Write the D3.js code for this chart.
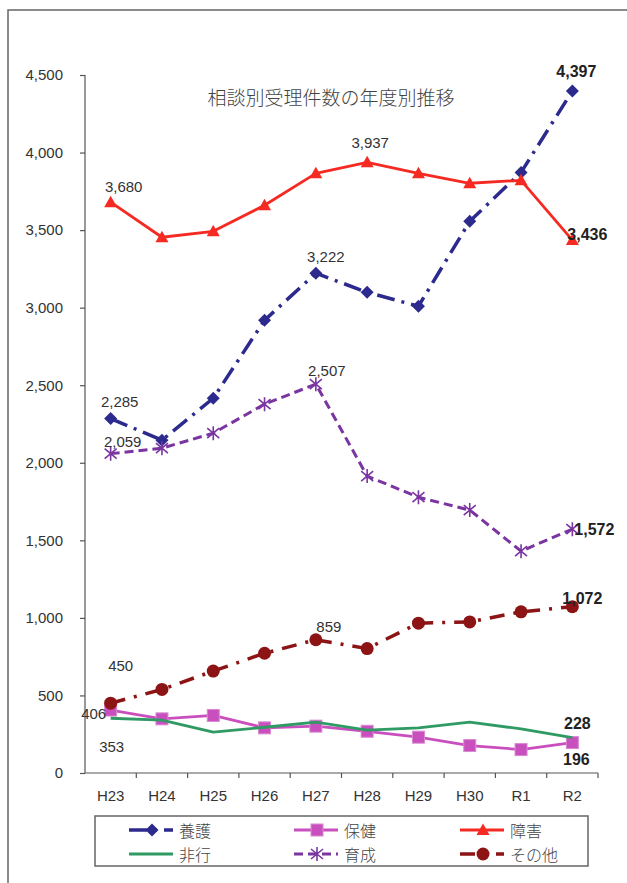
<!DOCTYPE html>
<html>
<head>
<meta charset="utf-8"/>
<script src="https://cdn.jsdelivr.net/npm/d3@7"></script>
<style>
html, body {
  margin: 0;
  padding: 0;
  background: #fff;
}
svg text {
  font-family: "Liberation Sans", Arial, sans-serif;
}
.axis path, .axis line {
  stroke: #555;
  stroke-width: 1.2;
}
.axis text {
  font-size: 15px;
  fill: #333;
}
.jp {
  font-family: "Noto Sans CJK JP", sans-serif !important;
  fill: #444;
}
</style>
</head>
<body>
<svg id="chart" width="627" height="883"></svg>
<script>

// ---- data ----
var years = ["H23", "H24", "H25", "H26", "H27", "H28", "H29", "H30", "R1", "R2"];
var yTicks = [0, 500, 1000, 1500, 2000, 2500, 3000, 3500, 4000, 4500];
var seriesNames = ["養護", "保健", "障害", "非行", "育成", "その他"];

var yogo   = [2285, 2146, 2416, 2919, 3222, 3099, 3009, 3557, 3872, 4397];
var hoken  = [406, 349, 371, 291, 302, 269, 231, 177, 151, 196];
var shogai = [3680, 3454, 3492, 3660, 3866, 3937, 3866, 3802, 3821, 3436];
var hiko   = [353, 341, 263, 295, 328, 276, 291, 328, 284, 228];
var ikusei = [2059, 2094, 2191, 2378, 2507, 1914, 1778, 1695, 1430, 1572];
var sonota = [450, 539, 657, 772, 859, 802, 966, 974, 1039, 1072];

var title = "相談別受理件数の年度別推移";

// ---- styling per series ----
var series = [
  {name: seriesNames[0], values: yogo,   color: "#2d2a8e", dash: "18,7,3,7", width: 3.5, marker: "diamond"},
  {name: seriesNames[1], values: hoken,  color: "#c94fbf", dash: null,       width: 2.8, marker: "square"},
  {name: seriesNames[2], values: shogai, color: "#f52a22", dash: null,       width: 2.8, marker: "triangle"},
  {name: seriesNames[3], values: hiko,   color: "#2f9a63", dash: null,       width: 2.8, marker: null},
  {name: seriesNames[4], values: ikusei, color: "#7a35a0", dash: "9,5",      width: 3,   marker: "star"},
  {name: seriesNames[5], values: sonota, color: "#8c1414", dash: "15,9,3,9", width: 3.5, marker: "circle"}
];

var svg = d3.select("#chart");

// outer frame (runs off the right and bottom edge)
svg.append("rect")
    .attr("x", 8).attr("y", 10)
    .attr("width", 660).attr("height", 920)
    .attr("fill", "none")
    .attr("stroke", "#666")
    .attr("stroke-width", 1.5);

var x = d3.scaleBand().domain(years).range([85, 598]);
var y = d3.scaleLinear().domain([0, 4500]).range([773, 75]);
function cx(d, i) { return x(years[i]) + x.bandwidth() / 2; }

// ---- axes ----
svg.append("g")
    .attr("class", "axis")
    .attr("transform", "translate(85,0)")
    .call(d3.axisLeft(y).tickValues(yTicks).tickFormat(d3.format(",")).tickSize(5).tickPadding(17))
    .call(function(g) { g.select(".domain").attr("d", "M0,75V773"); });

var xg = svg.append("g")
    .attr("class", "axis")
    .attr("transform", "translate(0,773)")
    .call(d3.axisBottom(x).tickSize(0).tickPadding(17));
xg.select(".domain").attr("d", "M85,0H598");
xg.selectAll(".bound")
    .data(years.slice(1).concat(["end"]))
  .enter().append("line")
    .attr("class", "bound")
    .attr("x1", function(d, i) { return x(years[0]) + x.step() * (i + 1); })
    .attr("x2", function(d, i) { return x(years[0]) + x.step() * (i + 1); })
    .attr("y1", 0).attr("y2", 5);

// ---- title ----
svg.append("text")
    .attr("class", "jp")
    .attr("x", 331).attr("y", 96)
    .attr("text-anchor", "middle")
    .attr("dominant-baseline", "central")
    .style("font-size", "19px")
    .style("font-weight", "300")
    .style("fill", "#444")
    .text(title);

// ---- markers ----
function drawMarker(g, type, color, px, py) {
  if (type === "diamond") {
    g.append("path").attr("d", "M" + px + "," + (py - 6.5) + "l6.5,6.5l-6.5,6.5l-6.5,-6.5z").attr("fill", color);
  } else if (type === "square") {
    g.append("rect").attr("x", px - 6).attr("y", py - 6).attr("width", 12).attr("height", 12)
        .attr("fill", color).attr("stroke", "#d98ad0").attr("stroke-width", 1);
  } else if (type === "triangle") {
    g.append("path").attr("d", "M" + px + "," + (py - 6.5) + "l6.5,11.5h-13z").attr("fill", color);
  } else if (type === "star") {
    g.append("path")
        .attr("d", "M" + px + "," + (py - 7) + "v14M" + (px - 6) + "," + (py - 5) + "l12,10M" + (px - 6) + "," + (py + 5) + "l12,-10")
        .attr("stroke", color).attr("stroke-width", 1.6).attr("fill", "none");
  } else if (type === "circle") {
    g.append("circle").attr("cx", px).attr("cy", py).attr("r", 6.5).attr("fill", color);
  }
}

var line = d3.line()
    .x(cx)
    .y(function(d) { return y(d); });

series.forEach(function(s) {
  var g = svg.append("g");
  g.append("path")
      .datum(s.values)
      .attr("d", line)
      .attr("fill", "none")
      .attr("stroke", s.color)
      .attr("stroke-width", s.width)
      .attr("stroke-dasharray", s.dash)
      .attr("stroke-linejoin", "round");
  if (s.marker) {
    s.values.forEach(function(v, i) {
      drawMarker(g, s.marker, s.color, cx(v, i), y(v));
    });
  }
});

// ---- data labels: series index, point index, offset ----
var labelSpots = [
  [0, 0, 9, -17, false], [0, 4, 10, -17, false], [0, 9, 4, -19, true],
  [2, 0, 13, -16, false], [2, 5, 3, -20, false], [2, 9, 15, -6, true],
  [4, 0, 12, -12, false], [4, 4, 11, -14, false], [4, 9, 22, 0, true],
  [5, 0, 10, -38, false], [5, 4, 13, -13, false], [5, 9, 10, -8, true],
  [1, 0, -17, 3, false], [1, 9, 4, 17, true],
  [3, 0, 1, 28, false], [3, 9, 5, -14, true]
];
var fmt = d3.format(",");
svg.append("g").selectAll("text")
    .data(labelSpots)
  .enter().append("text")
    .attr("x", function(d) { return cx(0, d[1]) + d[2]; })
    .attr("y", function(d) { return y(series[d[0]].values[d[1]]) + d[3]; })
    .attr("text-anchor", "middle")
    .attr("dominant-baseline", "central")
    .style("font-size", function(d) { return d[4] ? "16px" : "15px"; })
    .style("font-weight", function(d) { return d[4] ? "bold" : "normal"; })
    .style("fill", function(d) { return d[4] ? "#222" : "#333"; })
    .text(function(d) { return fmt(series[d[0]].values[d[1]]); });

// ---- legend ----
svg.append("rect")
    .attr("x", 95).attr("y", 816)
    .attr("width", 493).attr("height", 50)
    .attr("fill", "#fff")
    .attr("stroke", "#666")
    .attr("stroke-width", 1.5);

var legCols = [129, 294, 460];
var legRows = [830, 854];
series.forEach(function(s, i) {
  var lx = legCols[i % 3], ly = legRows[Math.floor(i / 3)];
  var g = svg.append("g");
  g.append("line")
      .attr("x1", lx).attr("x2", lx + 44)
      .attr("y1", ly).attr("y2", ly)
      .attr("stroke", s.color)
      .attr("stroke-width", s.width)
      .attr("stroke-dasharray", s.dash);
  if (s.marker) drawMarker(g, s.marker, s.color, lx + 23, ly);
  g.append("text")
      .attr("class", "jp")
      .attr("x", lx + 50).attr("y", ly)
      .attr("dominant-baseline", "central")
      .style("font-size", "16px")
      .style("font-weight", "300")
      .text(s.name);
});

</script>
</body>
</html>
